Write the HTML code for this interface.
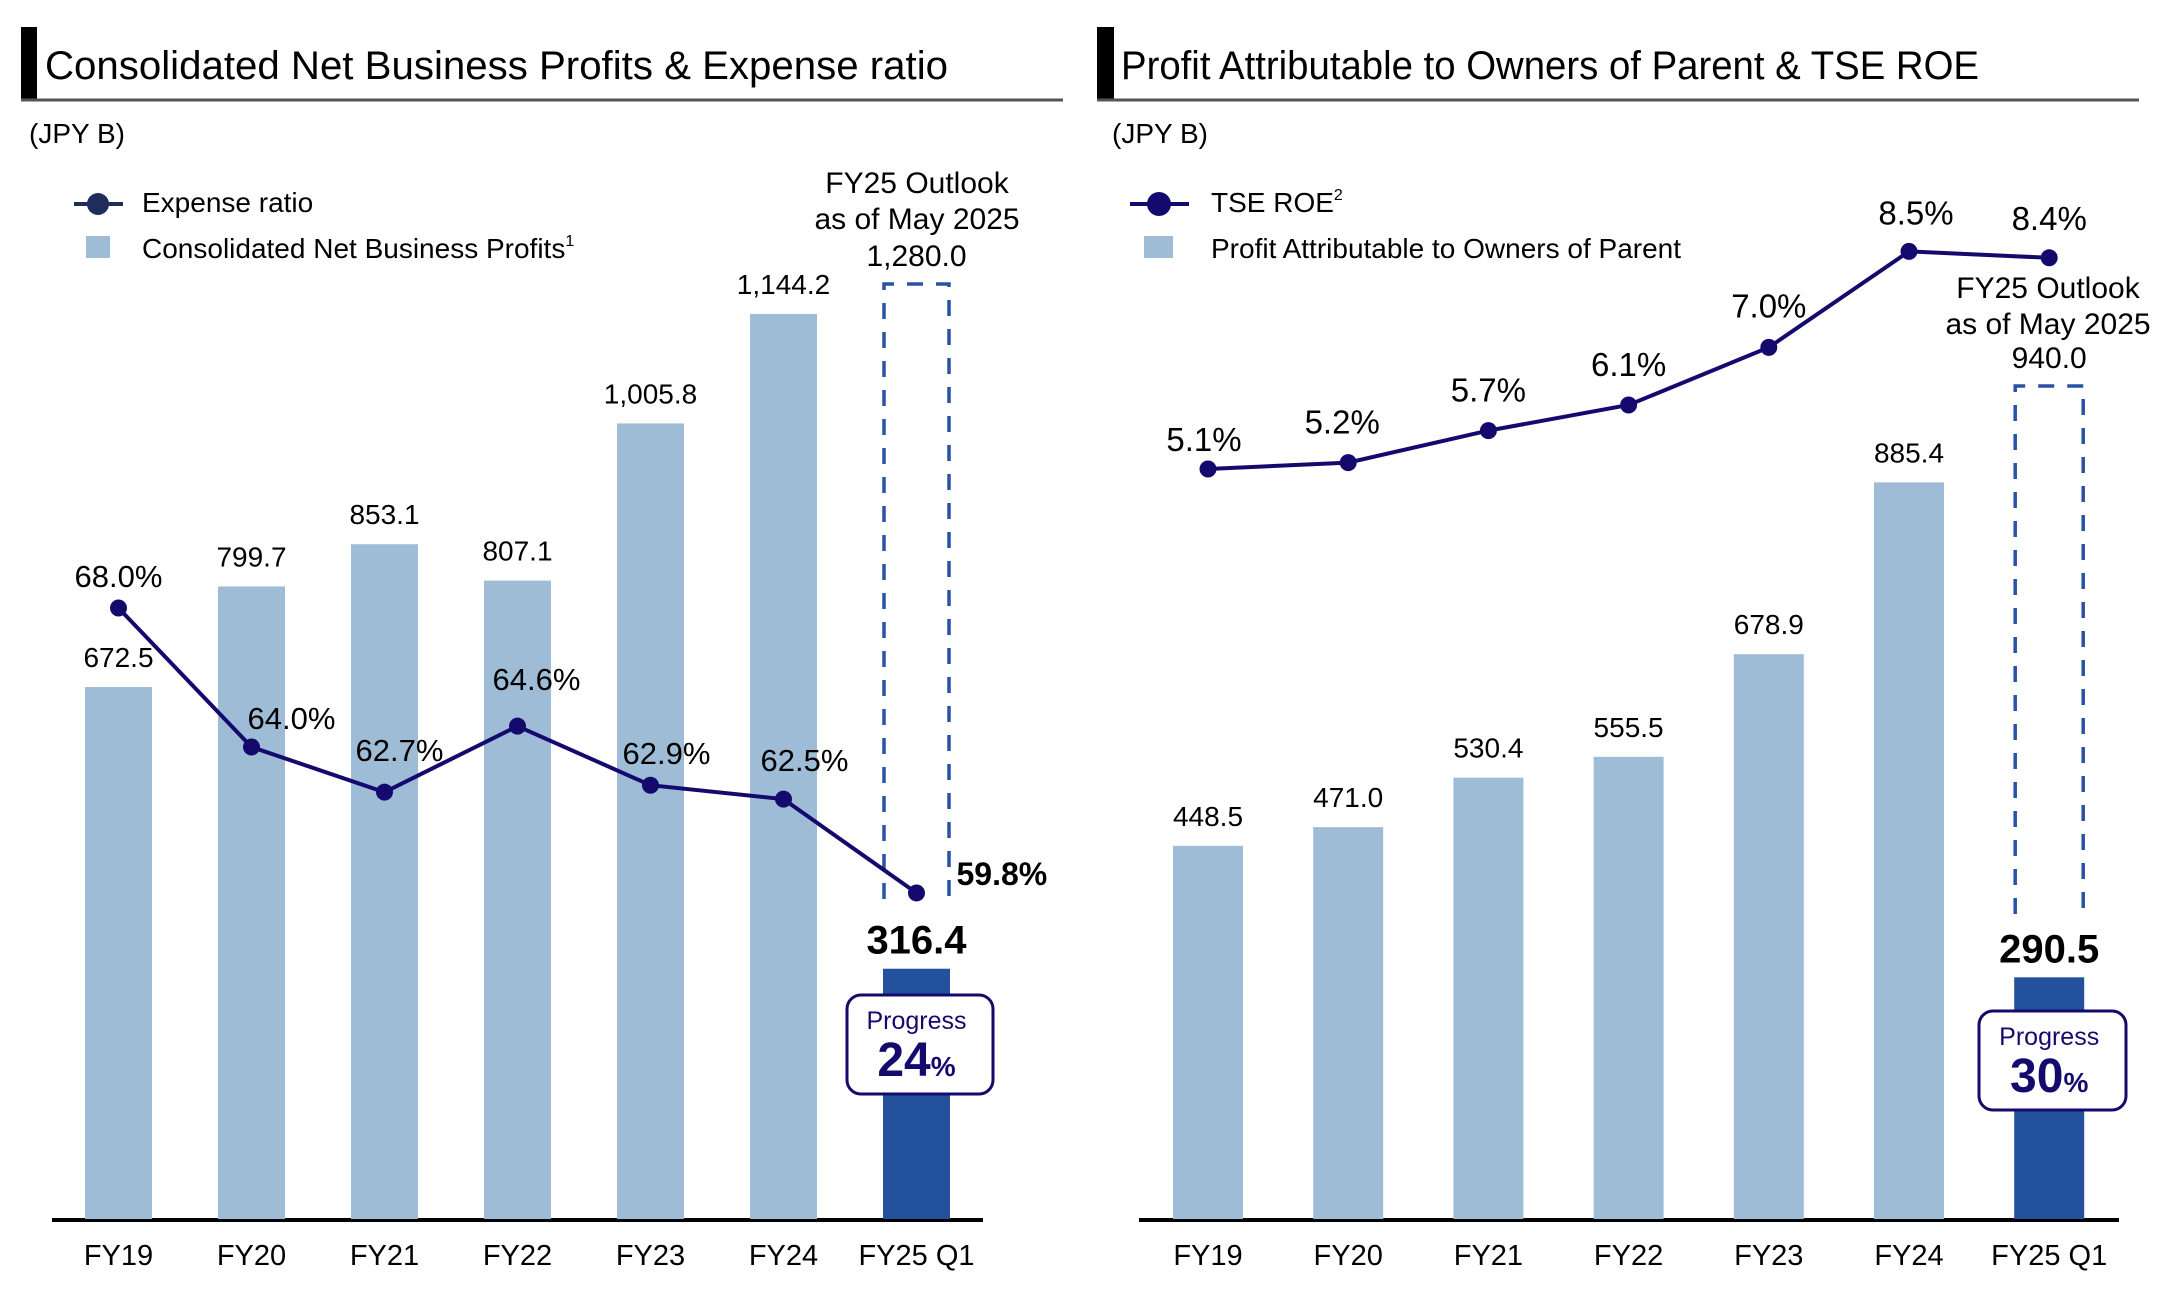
<!DOCTYPE html>
<html><head><meta charset="utf-8"><style>
html,body{margin:0;padding:0;background:#fff;}
svg{display:block;font-family:"Liberation Sans",Arial,sans-serif;}
</style></head><body>
<svg id="c" width="2166" height="1296" viewBox="0 0 2166 1296" xmlns="http://www.w3.org/2000/svg">
  <!-- Left header -->
  <rect x="21" y="27" width="16" height="73" fill="#000"/>
  <text x="45" y="79" font-size="40" textLength="903" lengthAdjust="spacingAndGlyphs">Consolidated Net Business Profits &amp; Expense ratio</text>
  <line x1="21" y1="100" x2="1063" y2="100" stroke="#555" stroke-width="3"/>
  <text x="29" y="143" font-size="28">(JPY B)</text>
  <line x1="74" y1="204" x2="123" y2="204" stroke="#1f2d5c" stroke-width="4"/>
  <circle cx="98" cy="204" r="11" fill="#1f2d5c"/>
  <text x="142" y="212" font-size="28">Expense ratio</text>
  <rect x="86" y="236" width="24" height="22" fill="#9fbcd7"/>
  <text x="142" y="258" font-size="28">Consolidated Net Business Profits<tspan font-size="16" dy="-12">1</tspan></text>
  <text x="917" y="193" font-size="30" text-anchor="middle">FY25 Outlook</text>
  <text x="917" y="229" font-size="30" text-anchor="middle">as of May 2025</text>

  <!-- Right header -->
  <rect x="1097" y="27" width="17" height="73" fill="#000"/>
  <text x="1121" y="79" font-size="40" textLength="858" lengthAdjust="spacingAndGlyphs">Profit Attributable to Owners of Parent &amp; TSE ROE</text>
  <line x1="1097" y1="100" x2="2139" y2="100" stroke="#555" stroke-width="3"/>
  <text x="1112" y="143" font-size="28">(JPY B)</text>
  <line x1="1130" y1="204" x2="1189" y2="204" stroke="#140a6e" stroke-width="4"/>
  <circle cx="1159" cy="204" r="12" fill="#140a6e"/>
  <text x="1211" y="212" font-size="28">TSE ROE<tspan font-size="16" dy="-12">2</tspan></text>
  <rect x="1144" y="236" width="29" height="22" fill="#9fbcd7"/>
  <text x="1211" y="258" font-size="28">Profit Attributable to Owners of Parent</text>
  <text x="2048" y="298" font-size="30" text-anchor="middle">FY25 Outlook</text>
  <text x="2048" y="334" font-size="30" text-anchor="middle">as of May 2025</text>
  <g id="gl"></g><g id="gr"></g>
</svg>
<script>
const categories = ["FY19","FY20","FY21","FY22","FY23","FY24","FY25 Q1"];
const netBusinessProfits = [672.5, 799.7, 853.1, 807.1, 1005.8, 1144.2, 316.4];
const netBusinessLabels = ["672.5","799.7","853.1","807.1","1,005.8","1,144.2","316.4"];
const expenseRatio = [68.0, 64.0, 62.7, 64.6, 62.9, 62.5, 59.8];
const expenseLabels = ["68.0%","64.0%","62.7%","64.6%","62.9%","62.5%","59.8%"];
const netBusinessOutlook = 1280.0;
const netBusinessOutlookLabel = "1,280.0";
const netBusinessProgress = "24";
const profitOwners = [448.5, 471.0, 530.4, 555.5, 678.9, 885.4, 290.5];
const profitLabels = ["448.5","471.0","530.4","555.5","678.9","885.4","290.5"];
const tseRoe = [5.1, 5.2, 5.7, 6.1, 7.0, 8.5, 8.4];
const roeLabels = ["5.1%","5.2%","5.7%","6.1%","7.0%","8.5%","8.4%"];
const profitOutlook = 940.0;
const profitOutlookLabel = "940.0";
const profitProgress = "30";

const NS = "http://www.w3.org/2000/svg";
function mk(parent, tag, attrs, text){
  const e = document.createElementNS(NS, tag);
  for (const k in attrs) e.setAttribute(k, attrs[k]);
  if (text !== undefined) e.textContent = text;
  parent.appendChild(e); return e;
}
const BASE = 1219;

function drawChart(g, cfg){
  const xC = i => cfg.x0 + cfg.step * i;
  const yB = v => BASE - v * cfg.k;
  const bw = cfg.bw;
  const ax = mk(g, "line", {x1: cfg.axL, y1: BASE+1, x2: cfg.axR, y2: BASE+1, stroke:"#000", "stroke-width":4});
  
  
  const last = categories.length - 1;
  const ob = mk(g, "path", {d: `M${xC(last)-bw/2+1},${cfg.boxBottom} V${cfg.boxTop} H${xC(last)+bw/2-1} V${cfg.boxBottom}`, fill:"none", stroke:"#2952a3", "stroke-width":3.5, "stroke-dasharray":"16,13"});
  
  
  const ol = mk(g, "text", {x: xC(last), y: cfg.boxTop - 18, "font-size":30, "text-anchor":"middle"}, cfg.outlookLabel);
  
  
  cfg.vals.forEach((v, i) => {
    const isLast = i === last;
    const r = mk(g, "rect", {x: xC(i)-bw/2, y: yB(v), width: bw, height: BASE - yB(v), fill: isLast ? "#24519b" : "#9fbcd7"});
    
    
    const t = mk(g, "text", {x: xC(i), y: yB(v) - (isLast ? 15 : 20), "font-size": isLast ? 40 : 28, "font-weight": isLast ? "bold" : "normal", "text-anchor":"middle"}, cfg.labels[i]);
    
    
    const xl = mk(g, "text", {x: xC(i), y: 1265, "font-size":29, "text-anchor":"middle"}, categories[i]);
    
    
  });
  const pb = cfg.pbox;
  const pr = mk(g, "rect", {x: pb.x, y: pb.y, width: pb.w, height: pb.h, rx: 14, fill:"#fff", stroke:"#140a6e", "stroke-width":3});
  
  
  const pt = mk(g, "text", {x: xC(last), y: pb.y + 34, "font-size":25, fill:"#140a6e", "text-anchor":"middle"}, "Progress");
  
  
  const pv = mk(g, "text", {x: xC(last), y: pb.y + 81, "font-size":48, "font-weight":"bold", fill:"#140a6e", "text-anchor":"middle"});
  
  
  mk(pv, "tspan", {}, cfg.progress);
  mk(pv, "tspan", {"font-size":28}, "%");
  const pts = cfg.line.map((v, i) => [xC(i), cfg.yL(v)]);
  const pl = mk(g, "polyline", {points: pts.map(p => p.join(",")).join(" "), fill:"none", stroke:"#140a6e", "stroke-width":4});
  
  
  pts.forEach((p, i) => {
    const c = mk(g, "circle", {cx: p[0], cy: p[1], r: cfg.mr, fill:"#140a6e"});
    
    
    const o = cfg.lblOff[i];
    const t = mk(g, "text", {x: p[0] + o[0], y: p[1] + o[1], "font-size": o[3] ? 32 : cfg.lfs, "font-weight": o[3] ? "bold" : "normal", "text-anchor": o[2]}, cfg.lineLabels[i]);
    
    
  });
}

drawChart(document.getElementById("gl"), {
  p: "left", x0: 118.5, step: 133, bw: 67, k: 0.791, axL: 52, axR: 983,
  vals: netBusinessProfits, labels: netBusinessLabels,
  boxTop: 284, boxBottom: 899, outlookLabel: netBusinessOutlookLabel,
  pbox: {x: 847, y: 995, w: 146, h: 99}, progress: netBusinessProgress,
  line: expenseRatio, lineLabels: expenseLabels, mr: 8.5, lfs: 31,
  yL: v => 608 + (68 - v) * 34.75,
  lblOff: [[0,-21,"middle"],[-4,-18,"start"],[15,-31,"middle"],[19,-36,"middle"],[16,-21,"middle"],[21,-28,"middle"],[40,-8,"start",true]]
});
drawChart(document.getElementById("gr"), {
  p: "right", x0: 1208, step: 140.2, bw: 70, k: 0.832, axL: 1139, axR: 2119,
  vals: profitOwners, labels: profitLabels,
  boxTop: 386, boxBottom: 914, outlookLabel: profitOutlookLabel,
  pbox: {x: 1979, y: 1011, w: 147, h: 99}, progress: profitProgress,
  line: tseRoe, lineLabels: roeLabels, mr: 8.5, lfs: 33,
  yL: v => 469 - (v - 5.1) * 64,
  lblOff: [[-4,-18,"middle"],[-6,-29,"middle"],[0,-29,"middle"],[0,-29,"middle"],[0,-30,"middle"],[7,-27,"middle"],[0,-28,"middle"]]
});
</script>
</body></html>
